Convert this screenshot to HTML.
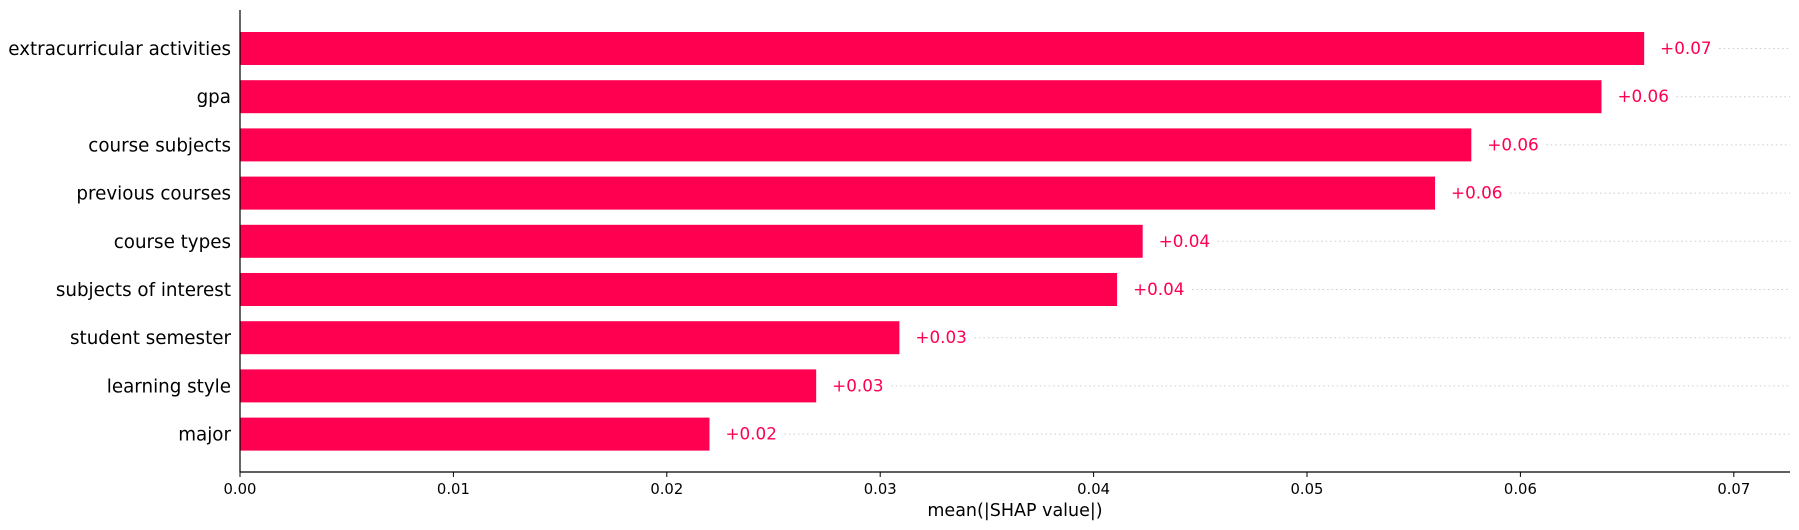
<!DOCTYPE html>
<html><head><meta charset="utf-8"><style>
body{margin:0;background:#fff}
svg{display:block;font-family:"DejaVu Sans","Liberation Sans",sans-serif}
</style></head><body>
<svg id="chart" width="1799" height="530" viewBox="0 0 1799 530"></svg>
<script>
const features=["extracurricular activities","gpa","course subjects","previous courses","course types","subjects of interest","student semester","learning style","major"];
const values=[0.0658,0.0638,0.0577,0.0560,0.0423,0.0411,0.0309,0.0270,0.0220];
const valueLabels=["+0.07","+0.06","+0.06","+0.06","+0.04","+0.04","+0.03","+0.03","+0.02"];
const ticks=[0,0.01,0.02,0.03,0.04,0.05,0.06,0.07];
const tickLabels=["0.00","0.01","0.02","0.03","0.04","0.05","0.06","0.07"];
const NS="http://www.w3.org/2000/svg";
const svg=document.getElementById('chart');
const x0=240,xs=21340,axisY=472,right=1790,y0=48.5,dy=48.2,bh=33;
const X=v=>x0+v*xs, Y=i=>y0+i*dy;
function mk(t,a,txt){const e=document.createElementNS(NS,t);for(const k in a)e.setAttribute(k,a[k]);if(txt!=null)e.textContent=txt;svg.appendChild(e);return e;}
features.forEach((f,i)=>{
  const g=mk('line',{x1:X(values[i])+75,x2:right,y1:Y(i),y2:Y(i),stroke:'#ccc','stroke-dasharray':'1.5 3','stroke-width':1});
  
  
  const b=mk('rect',{x:x0,y:Y(i)-bh/2,width:X(values[i])-x0,height:bh,fill:'#ff0051'});
  
  
  const l=mk('text',{x:x0-9,y:Y(i)+6.5,'text-anchor':'end','font-size':18.3,fill:'#000'},f);
  
  
  const v=mk('text',{x:X(values[i])+16,y:Y(i)+5.5,'font-size':16.8,fill:'#ff0051'},valueLabels[i]);
  
  
});
const ya=mk('line',{x1:x0,x2:x0,y1:10,y2:axisY,stroke:'#000','stroke-width':1.2});


const xa=mk('line',{x1:x0,x2:right,y1:axisY,y2:axisY,stroke:'#000','stroke-width':1.2});


ticks.forEach((t,i)=>{
  const tk=mk('line',{x1:X(t),x2:X(t),y1:axisY,y2:axisY+5,stroke:'#000','stroke-width':1});
  
  
  const tl=mk('text',{x:X(t),y:axisY+22,'text-anchor':'middle','font-size':14.8,fill:'#000'},tickLabels[i]);
  
  
});
const xt=mk('text',{x:(x0+right)/2,y:516,'text-anchor':'middle','font-size':17.5,fill:'#000'},'mean(|SHAP value|)');


</script>
</body></html>
